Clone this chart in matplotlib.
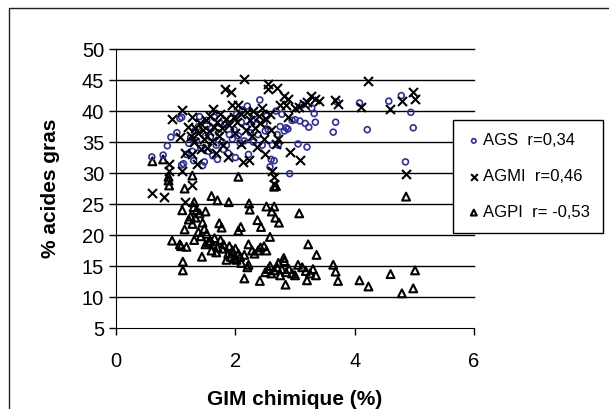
import matplotlib
matplotlib.use("Agg")
import matplotlib.pyplot as plt
from matplotlib.patches import Rectangle

plt.rcParams['font.family'] = ['Liberation Sans', 'DejaVu Sans']

# AGS (saturés)
ags_x = [0.60, 0.79, 0.86, 0.92, 1.02, 1.07, 1.10, 1.10, 1.13, 1.18, 1.22, 1.25, 1.28, 1.30,
         1.32, 1.35, 1.38, 1.40, 1.42, 1.45, 1.48, 1.50, 1.52, 1.55, 1.58, 1.60, 1.62, 1.65,
         1.68, 1.70, 1.72, 1.75, 1.78, 1.80, 1.82, 1.85, 1.88, 1.90, 1.92, 1.95, 1.98, 2.00,
         2.02, 2.05, 2.08, 2.10, 2.12, 2.15, 2.18, 2.20, 2.22, 2.25, 2.28, 2.30, 2.32, 2.35,
         2.38, 2.41, 2.45, 2.48, 2.50, 2.52, 2.55, 2.58, 2.60, 2.62, 2.65, 2.68, 2.70, 2.72,
         2.75, 2.78, 2.82, 2.85, 2.88, 2.91, 2.95, 3.00, 3.05, 3.08, 3.12, 3.17, 3.20, 3.23,
         3.28, 3.32, 3.34, 3.64, 3.68, 3.70, 4.08, 4.21, 4.57, 4.78, 4.85, 4.94, 4.98]
ags_y = [32.6, 32.9, 34.4, 35.8, 36.5, 38.8, 39.0, 31.3, 31.5, 33.0, 34.8, 35.7, 33.5, 32.0,
         36.8, 35.2, 37.5, 39.1, 34.0, 31.2, 31.8, 36.0, 38.5, 33.5, 35.8, 37.2, 32.8, 39.0,
         34.5, 32.2, 36.5, 38.0, 35.0, 33.8, 37.8, 34.5, 33.2, 36.2, 38.8, 35.5, 37.0, 32.5,
         39.5, 36.0, 34.8, 38.2, 40.2, 35.2, 37.5, 40.8, 33.0, 36.5, 38.5, 35.0, 39.5, 37.8,
         36.2, 41.8, 34.5, 38.0, 36.8, 39.2, 37.0, 31.0, 32.2, 34.5, 32.0, 40.0, 36.2, 34.5,
         37.5, 39.5, 36.8, 37.3, 37.1, 29.9, 38.5, 38.6, 34.7, 38.4, 41.0, 38.0, 34.2, 37.4,
         40.5, 39.6, 38.2, 36.6, 38.2, 41.5, 41.3, 37.0, 41.6, 42.5, 31.8, 39.8, 37.3]

# AGMI (mono-insaturés)
agmi_x = [0.61, 0.81, 0.88, 0.88, 0.94, 1.07, 1.11, 1.11, 1.15, 1.15, 1.20, 1.25, 1.27, 1.27,
          1.28, 1.30, 1.32, 1.35, 1.38, 1.40, 1.42, 1.45, 1.48, 1.50, 1.52, 1.55, 1.58, 1.60,
          1.63, 1.65, 1.68, 1.70, 1.72, 1.75, 1.78, 1.80, 1.83, 1.85, 1.87, 1.90, 1.93, 1.95,
          1.98, 2.00, 2.02, 2.05, 2.09, 2.10, 2.13, 2.15, 2.18, 2.20, 2.23, 2.25, 2.28, 2.30,
          2.33, 2.36, 2.40, 2.42, 2.45, 2.48, 2.50, 2.52, 2.55, 2.55, 2.58, 2.60, 2.62, 2.65,
          2.65, 2.68, 2.70, 2.72, 2.75, 2.81, 2.85, 2.88, 2.89, 2.91, 3.00, 3.07, 3.08, 3.15,
          3.20, 3.27, 3.33, 3.40, 3.67, 3.72, 4.10, 4.22, 4.59, 4.79, 4.86, 4.98, 5.01]
agmi_y = [26.8, 26.2, 31.5, 30.4, 38.8, 35.8, 40.1, 30.4, 25.4, 33.2, 37.5, 36.0, 39.0, 28.0,
          33.1, 35.0, 37.2, 31.5, 36.5, 38.0, 33.8, 37.0, 35.5, 38.5, 34.0, 36.8, 39.2, 35.2,
          40.4, 37.5, 33.2, 38.2, 36.0, 39.5, 37.2, 34.5, 43.6, 38.8, 32.6, 37.8, 43.0, 40.9,
          39.0, 36.5, 38.2, 41.0, 34.7, 39.5, 31.8, 45.2, 37.0, 39.8, 32.1, 38.5, 36.0, 40.0,
          37.2, 34.2, 39.2, 38.0, 40.5, 35.5, 33.0, 38.8, 43.6, 44.4, 39.5, 37.0, 30.4, 28.3,
          29.4, 34.7, 43.7, 35.5, 41.0, 42.5, 41.0, 42.0, 39.0, 33.4, 40.5, 40.6, 32.1, 41.2,
          41.5, 42.5, 42.0, 41.7, 41.8, 41.2, 40.6, 44.9, 40.4, 41.7, 29.8, 43.0, 42.0]

# AGPI (poly-insaturés)
agpi_x = [0.61, 0.79, 0.88, 0.88, 0.89, 0.94, 1.07, 1.09, 1.11, 1.12, 1.12, 1.15, 1.15, 1.18,
          1.22, 1.25, 1.28, 1.28, 1.30, 1.31, 1.31, 1.33, 1.35, 1.38, 1.40, 1.42, 1.44, 1.45,
          1.48, 1.50, 1.50, 1.52, 1.55, 1.58, 1.60, 1.60, 1.62, 1.65, 1.68, 1.70, 1.70, 1.73,
          1.75, 1.77, 1.78, 1.80, 1.85, 1.88, 1.89, 1.90, 1.92, 1.95, 1.98, 2.00, 2.02, 2.05,
          2.05, 2.05, 2.08, 2.09, 2.10, 2.15, 2.15, 2.20, 2.22, 2.22, 2.23, 2.24, 2.28, 2.32,
          2.37, 2.38, 2.41, 2.42, 2.43, 2.48, 2.50, 2.52, 2.52, 2.55, 2.58, 2.58, 2.60, 2.61,
          2.65, 2.65, 2.65, 2.67, 2.68, 2.70, 2.72, 2.73, 2.75, 2.78, 2.81, 2.82, 2.84, 2.85,
          2.90, 2.95, 3.00, 3.05, 3.07, 3.12, 3.18, 3.20, 3.22, 3.25, 3.30, 3.35, 3.36, 3.64,
          3.68, 3.72, 4.08, 4.23, 4.60, 4.79, 4.86, 4.98, 5.01]
agpi_y = [31.9, 32.2, 29.4, 28.8, 28.0, 19.1, 18.5, 18.2, 24.0, 15.7, 14.3, 27.5, 20.9, 18.1,
          22.5, 23.0, 21.8, 29.6, 24.5, 25.3, 19.2, 22.8, 24.0, 20.5, 23.5, 19.8, 16.5, 22.0,
          21.0, 18.5, 23.8, 20.2, 18.8, 19.0, 17.5, 26.3, 18.5, 19.5, 17.2, 18.0, 25.6, 21.9,
          19.2, 21.2, 17.8, 18.5, 16.0, 17.0, 25.3, 18.2, 16.5, 17.5, 16.2, 17.8, 16.0, 17.0,
          29.4, 20.7, 16.5, 21.3, 15.5, 16.8, 13.0, 14.8, 15.2, 18.5, 25.1, 24.1, 17.5, 17.0,
          22.4, 17.5, 12.6, 18.0, 21.3, 18.2, 14.0, 17.5, 24.6, 14.5, 15.0, 19.7, 13.8, 23.8,
          14.3, 24.6, 27.8, 22.8, 27.9, 14.8, 15.5, 22.0, 13.5, 14.5, 16.3, 15.8, 12.0, 14.0,
          14.5, 13.8, 13.5, 15.2, 23.5, 14.8, 14.2, 12.7, 18.5, 13.8, 14.5, 13.5, 16.8, 15.2,
          14.1, 12.6, 12.7, 11.7, 13.7, 10.6, 26.2, 11.4, 14.3]

labels = ['AGS  r=0,34', 'AGMI  r=0,46', 'AGPI  r= -0,53']

fig = plt.figure(figsize=(6.09, 4.09), dpi=100)
ax = fig.add_axes([0.1905, 0.198, 0.588, 0.682])

# cadre autour de la figure
fig.patches.append(Rectangle((8.5 / 609, -0.1), 1.2, 1.1 - 8.5 / 409,
                             transform=fig.transFigure, fill=False,
                             edgecolor='#222222', linewidth=1.0))

for v in range(10, 55, 5):
    ax.axhline(v, color='black', linewidth=1.0, zorder=1, clip_on=False)

ax.scatter(ags_x, ags_y, s=18, marker='o', facecolors='none', edgecolors='#2e3192',
           linewidths=1.2, zorder=3, label=labels[0])
ax.scatter(agmi_x, agmi_y, s=42, marker='x', color='black', linewidths=1.5,
           zorder=4, label=labels[1])
ax.scatter(agpi_x, agpi_y, s=32, marker='^', facecolors='none', edgecolors='black',
           linewidths=1.5, zorder=2, label=labels[2])

ax.set_xlim(0, 6)
ax.set_ylim(5, 50)
ax.set_xticks([0, 2, 4, 6])
ax.set_yticks(range(5, 55, 5))
ax.spines['top'].set_visible(False)
ax.spines['right'].set_visible(False)
ax.tick_params(axis='both', labelsize=14.5, length=5, width=1, direction='out', color='black')
ax.tick_params(axis='x', pad=12)

ax.set_xlabel('GIM chimique (%)', fontsize=15, fontweight='bold', labelpad=14)
ax.set_ylabel('% acides gras', fontsize=15, fontweight='bold', labelpad=16)

leg = ax.legend(loc='upper left', bbox_to_anchor=(0.941, 0.746), fontsize=12,
                frameon=True, fancybox=False, edgecolor='black', framealpha=1,
                handletextpad=0.1, handlelength=0.9, markerscale=0.75,
                labelspacing=1.25, borderpad=0.8, borderaxespad=0)
leg.get_frame().set_linewidth(1.0)
leg.set_zorder(5)

fig.savefig('out.png', dpi=100)
